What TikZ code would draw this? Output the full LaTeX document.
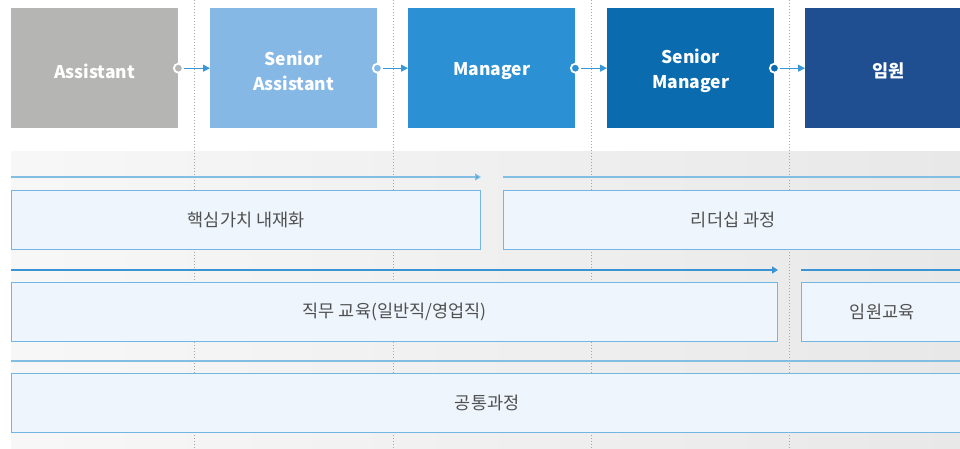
\documentclass[tikz,border=0pt]{standalone}
\usepackage{fontspec}
\setmainfont{Noto Sans CJK KR}
\usetikzlibrary{arrows.meta}
\definecolor{cA}{HTML}{B5B5B4}
\definecolor{cB}{HTML}{86B8E6}
\definecolor{cC}{HTML}{2B90D4}
\definecolor{cD}{HTML}{0A6CAF}
\definecolor{cE}{HTML}{1F4F91}
\definecolor{boxfill}{HTML}{EEF5FC}
\definecolor{boxline}{HTML}{74B6E2}
\definecolor{arrowc}{HTML}{3A97D6}
\definecolor{linec}{HTML}{82BDE3}
\definecolor{darkline}{HTML}{3A94D4}
\definecolor{txt}{HTML}{505050}
\tikzset{
  level/.style={rectangle, anchor=north west, minimum width=167pt, minimum height=120pt, inner sep=0pt},
  leveltext/.style={text=white, font=\fontsize{17.5}{25}\selectfont\bfseries, align=center, inner sep=0pt, yshift=-3pt},
  course/.style={rectangle, anchor=north west, minimum height=59pt, inner sep=0pt, draw=boxline,
    line width=1.3pt, fill=boxfill, text=txt, font=\fontsize{17.5}{20}\selectfont},
  knob/.style={circle, minimum size=9pt, inner sep=0pt, draw=white, line width=1.8pt},
  flow/.style={draw=arrowc, line width=1.2pt, -{Triangle[length=7pt,width=7pt]}},
  rowline/.style={draw=linec, line width=1.3pt},
  rowarrow/.style={draw=linec, line width=1.3pt, -{Triangle[length=6pt,width=7pt,fill=arrowc]}},
  darkrow/.style={draw=darkline, line width=1.2pt},
  darkarrow/.style={draw=darkline, line width=1.2pt, -{Triangle[length=6pt,width=7pt,fill=arrowc]}},
  guide/.style={draw=black!35, line width=1pt, dotted},
}
\begin{document}
\begin{tikzpicture}[x=1pt,y=-1pt]
\useasboundingbox (0,0) rectangle (960,449);
% background panel
\shade[left color=white!97!black, right color=black!9] (11,152) rectangle (960,449);
% dotted guides
\foreach \gx/\nm in {194/g1,393/g2,591/g3,789/g4}{
  \coordinate (\nm t) at (\gx,0);
  \coordinate (\nm b) at (\gx,449);
  \draw[guide] (\nm t) -- (\nm b);
}
% row lines
\coordinate (r1a) at (11,177); \coordinate (r1b) at (481,177);
\coordinate (r1c) at (503,177); \coordinate (r1d) at (962,177);
\coordinate (r2a) at (11,270); \coordinate (r2b) at (778,270);
\coordinate (r2c) at (801,270); \coordinate (r2d) at (962,270);
\coordinate (r3a) at (11,361); \coordinate (r3b) at (962,361);
\draw[rowarrow] (r1a) -- (r1b);
\draw[rowline] (r1c) -- (r1d);
\draw[darkarrow] (r2a) -- (r2b);
\draw[darkrow] (r2c) -- (r2d);
\draw[rowline] (r3a) -- (r3b);
% course boxes
\node[course, minimum width=469pt] (k1) at (11,190) {핵심가치 내재화};
\node[course, minimum width=459pt] (k2) at (503,190) {리더십 과정};
\node[course, minimum width=766pt] (k3) at (11,282) {직무 교육(일반직/영업직)};
\node[course, minimum width=161pt] (k4) at (801,282) {임원교육};
\node[course, minimum width=951pt] (k5) at (11,373) {공통과정};
% level boxes
\node[level, fill=cA] (l1) at (11,8) {};
\node[level, fill=cB] (l2) at (210,8) {};
\node[level, fill=cC] (l3) at (408,8) {};
\node[level, fill=cD] (l4) at (607,8) {};
\node[level, fill=cE] (l5) at (805,8) {};
\node[leveltext] (t1) at (l1.center) {Assistant};
\node[leveltext] (t2) at (l2.center) {Senior\\Assistant};
\node[leveltext] (t3) at (l3.center) {Manager};
\node[leveltext] (t4) at (l4.center) {Senior\\Manager};
\node[leveltext] (t5) at (l5.center) {임원};
% connectors
\foreach \a/\b/\c in {l1/l2/cA,l2/l3/cB,l3/l4/cC,l4/l5/cD}{
  \node[knob, fill=\c] (k\a) at (\a.east) {};
  \draw[flow] (k\a.east) -- (\b.west);
}
\end{tikzpicture}
\end{document}
